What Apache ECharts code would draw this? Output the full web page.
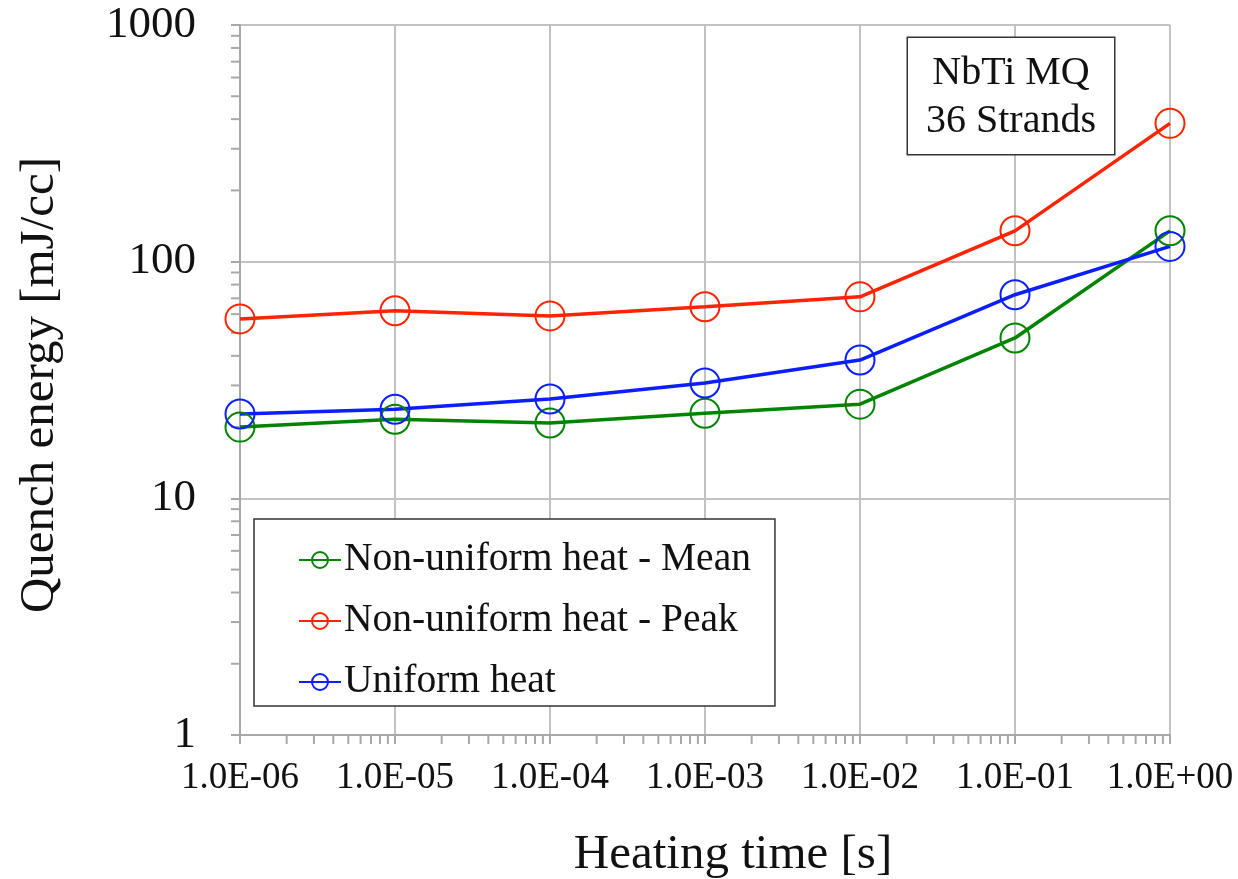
<!DOCTYPE html>
<html>
<head>
<meta charset="utf-8">
<title>Quench energy vs heating time</title>
<script src="https://cdn.jsdelivr.net/npm/echarts@6/dist/echarts.min.js"></script>
<style>
  html, body { margin: 0; padding: 0; background: #fff; }
  #chart { width: 1238px; height: 879px; }
</style>
</head>
<body>
<div id="chart"></div>
<script>
// heating time [s]
const heatingTimes = [1e-6, 1e-5, 1e-4, 1e-3, 1e-2, 1e-1, 1e0]
// quench energy [mJ/cc]
const meanValues = [20.0, 21.6, 20.8, 22.9, 25.0, 47.6, 135]
const peakValues = [57.3, 62, 59, 64.5, 71, 135, 384]
const uniformValues = [22.7, 23.8, 26.3, 30.7, 38.4, 72.5, 116]

const seriesNames = ['Non-uniform heat - Mean', 'Non-uniform heat - Peak', 'Uniform heat']
const seriesColors = ['#008400', '#ff2400', '#0a1eff']

// minor tick positions (2..9 per decade)
const xMinorTicks = []
for (let e = -6; e < 0; e++) for (let m = 2; m <= 9; m++) xMinorTicks.push(m * Math.pow(10, e))
const yMinorTicks = []
for (let e = 0; e < 3; e++) for (let m = 2; m <= 9; m++) yMinorTicks.push(m * Math.pow(10, e))

const FONT = '"Liberation Serif", "Times New Roman", serif'
const GRID_COLOR = '#c2c2c2'
const AXIS_COLOR = '#a8a8a8'

const chart = echarts.init(document.getElementById('chart'))

const pair = (xs, ys) => xs.map((x, i) => [x, ys[i]])

const lineSeries = (name, values, color) => ({
  name: name,
  type: 'line',
  data: pair(heatingTimes, values),
  symbol: 'circle',
  symbolSize: 29,
  lineStyle: { color: color, width: 3.5 },
  itemStyle: { color: 'transparent', borderColor: color, borderWidth: 2 },
  emphasis: { disabled: true },
  z: 5
})

// minor ticks drawn through the axis scales
const minorTickSeries = (values, dir) => ({
  type: 'custom',
  silent: true,
  clip: false,
  data: values,
  encode: dir === 'x' ? { x: 0 } : { y: 0 },
  renderItem: (params, api) => {
    const v = api.value(0)
    const p = dir === 'x' ? api.coord([v, 1]) : api.coord([1e-6, v])
    const shape = dir === 'x'
      ? { x1: p[0], y1: p[1], x2: p[0], y2: p[1] + 9 }
      : { x1: p[0] - 9, y1: p[1], x2: p[0], y2: p[1] }
    return { type: 'line', shape: shape, style: { stroke: AXIS_COLOR, lineWidth: 2 } }
  },
  z: 1
})

const option = {
  backgroundColor: '#fff',
  animation: false,
  grid: { left: 240, right: 68, top: 25, bottom: 144, outerBoundsMode: 'none', containLabel: false },
  xAxis: {
    type: 'log',
    logBase: 10,
    min: 1e-6,
    max: 1,
    name: 'Heating time [s]',
    nameLocation: 'middle',
    nameGap: 96,
    nameTextStyle: { fontFamily: FONT, fontSize: 49, color: '#111', padding: [0, 0, 0, 56] },
    axisLine: { show: true, lineStyle: { color: AXIS_COLOR, width: 2 } },
    axisTick: { show: true, inside: false, length: 9, lineStyle: { color: AXIS_COLOR, width: 2 } },
    axisLabel: {
      fontFamily: FONT, fontSize: 37, color: '#111', margin: 25,
      formatter: v => {
        const e = Math.round(Math.log10(v))
        const s = String(Math.abs(e)).padStart(2, '0')
        return '1.0E' + (e < 0 ? '-' : '+') + s
      }
    },
    splitLine: { show: true, lineStyle: { color: GRID_COLOR, width: 2 } }
  },
  yAxis: {
    type: 'log',
    logBase: 10,
    min: 1,
    max: 1000,
    name: 'Quench energy [mJ/cc]',
    nameLocation: 'middle',
    nameGap: 175,
    nameTextStyle: { fontFamily: FONT, fontSize: 49, color: '#111', padding: [0, 10, 0, 0] },
    axisLine: { show: true, lineStyle: { color: AXIS_COLOR, width: 2 } },
    axisTick: { show: true, inside: false, length: 9, lineStyle: { color: AXIS_COLOR, width: 2 } },
    axisLabel: {
      fontFamily: FONT, fontSize: 45, color: '#111', margin: 44,
      formatter: v => String(Math.round(v))
    },
    splitLine: { show: true, lineStyle: { color: GRID_COLOR, width: 2 } }
  },
  legend: {
    data: seriesNames,
    orient: 'vertical',
    left: 254,
    top: 519,
    itemWidth: 42,
    itemHeight: 20,
    itemGap: 21,
    padding: [21, 24, 4, 44],
    backgroundColor: '#fff',
    borderColor: '#333',
    borderWidth: 1.5,
    borderRadius: 0,
    selectedMode: false,
    textStyle: { fontFamily: FONT, fontSize: 39.5, color: '#111', padding: [0, 0, 0, -2] }
  },
  graphic: [{
    type: 'text',
    x: 1011,
    y: 38,
    z: 10,
    style: {
      text: 'NbTi MQ\n36 Strands',
      align: 'center',
      verticalAlign: 'top',
      font: '40px ' + FONT,
      fill: '#111',
      lineHeight: 48,
      backgroundColor: '#fff',
      borderColor: '#333',
      borderWidth: 1.5,
      padding: [11, 18, 9, 18]
    }
  }],
  series: [
    lineSeries(seriesNames[0], meanValues, seriesColors[0]),
    lineSeries(seriesNames[1], peakValues, seriesColors[1]),
    lineSeries(seriesNames[2], uniformValues, seriesColors[2]),
    minorTickSeries(xMinorTicks, 'x'),
    minorTickSeries(yMinorTicks, 'y')
  ]
}

chart.setOption(option)
</script>
</body>
</html>
